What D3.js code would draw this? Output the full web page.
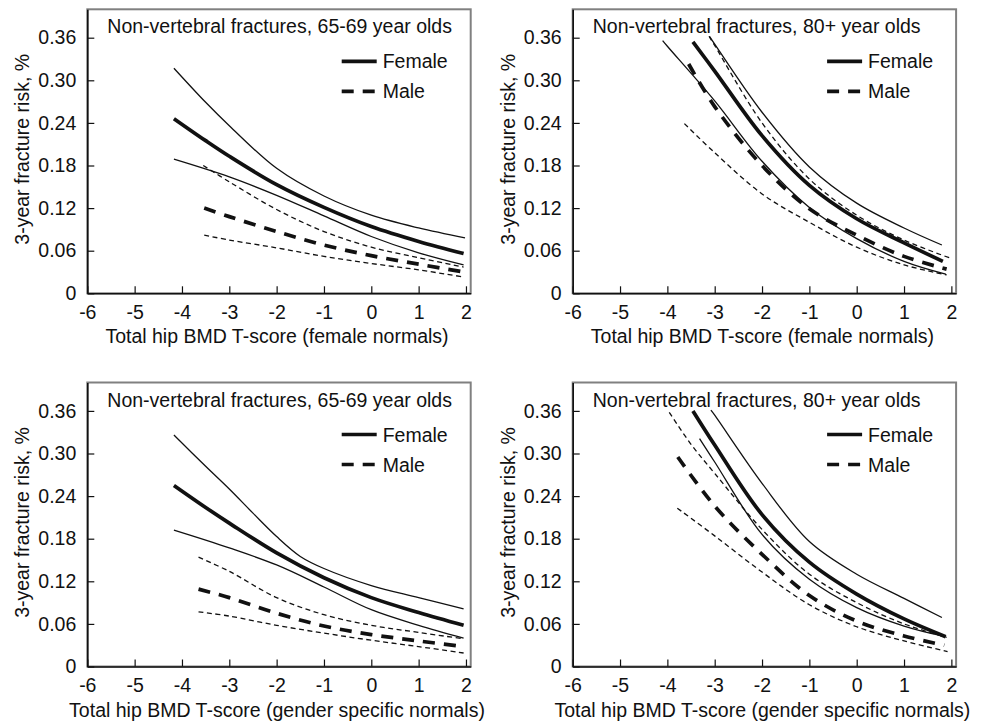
<!DOCTYPE html>
<html>
<head>
<meta charset="utf-8">
<script src="https://cdn.jsdelivr.net/npm/d3@7"></script>
<style>
  body { margin: 0; background: #fff; }
  text { font-family: "Liberation Sans", Arial, sans-serif; fill: #111; }
</style>
</head>
<body>
<svg id="chart" width="981" height="722"></svg>
<script>
// tick labels
const xTicks = [-6, -5, -4, -3, -2, -1, 0, 1, 2];
const yTicks = [0, 0.06, 0.12, 0.18, 0.24, 0.30, 0.36];

// [T-score, risk] pairs
// top left: 65-69, female normals
const p1FemMean = [[-4.17,0.246],[-3.5,0.215],[-3,0.193],[-2,0.153],[-1,0.121],[0,0.094],[1,0.073],[1.95,0.056]];
const p1FemUp   = [[-4.17,0.317],[-3.5,0.269],[-3,0.236],[-2,0.176],[-1,0.137],[0,0.110],[1,0.092],[1.98,0.078]];
const p1FemLo   = [[-4.17,0.189],[-3,0.164],[-2,0.138],[-1,0.109],[0,0.080],[1,0.057],[1.95,0.040]];
const p1MalMean = [[-3.53,0.120],[-3,0.108],[-2,0.087],[-1,0.068],[0,0.053],[1,0.041],[1.95,0.030]];
const p1MalUp   = [[-3.55,0.180],[-3,0.157],[-2,0.118],[-1,0.087],[0,0.065],[1,0.050],[1.95,0.037]];
const p1MalLo   = [[-3.53,0.082],[-3,0.075],[-2,0.064],[-1,0.052],[0,0.042],[1,0.033],[1.95,0.023]];

// top right: 80+, female normals
const p2FemMean = [[-3.46,0.354],[-3,0.313],[-2,0.222],[-1,0.152],[0,0.105],[1,0.071],[1.82,0.045]];
const p2FemUp   = [[-3.11,0.362],[-3,0.351],[-2,0.255],[-1,0.178],[0,0.127],[1,0.092],[1.8,0.068]];
const p2FemLo   = [[-4.1,0.356],[-4,0.348],[-3,0.271],[-2,0.186],[-1,0.121],[0,0.077],[1,0.045],[1.88,0.027]];
const p2MalMean = [[-3.55,0.323],[-3,0.263],[-2,0.180],[-1,0.119],[0,0.082],[1,0.052],[1.9,0.034]];
const p2MalUp   = [[-3.12,0.362],[-3,0.349],[-2,0.240],[-1,0.161],[0,0.110],[1,0.075],[2,0.049]];
const p2MalLo   = [[-3.64,0.239],[-3,0.198],[-2,0.140],[-1,0.100],[0,0.065],[1,0.040],[1.9,0.026]];

// bottom left: 65-69, gender specific normals
const p3FemMean = [[-4.17,0.255],[-3.5,0.224],[-3,0.202],[-2,0.160],[-1,0.125],[0,0.097],[1,0.076],[1.95,0.058]];
const p3FemUp   = [[-4.17,0.326],[-3.5,0.282],[-3,0.250],[-2.5,0.216],[-2,0.183],[-1.5,0.155],[-1,0.138],[0,0.114],[1,0.097],[1.95,0.081]];
const p3FemLo   = [[-4.17,0.192],[-3,0.167],[-2,0.143],[-1,0.112],[0,0.080],[1,0.058],[1.95,0.040]];
const p3MalMean = [[-3.65,0.109],[-3,0.097],[-2,0.075],[-1,0.057],[0,0.045],[1,0.036],[1.95,0.028]];
const p3MalUp   = [[-3.65,0.154],[-3,0.134],[-2,0.097],[-1,0.073],[0,0.058],[1,0.048],[1.95,0.039]];
const p3MalLo   = [[-3.65,0.077],[-3,0.071],[-2,0.058],[-1,0.047],[0,0.037],[1,0.028],[1.95,0.019]];

// bottom right: 80+, gender specific normals
const p4FemMean = [[-3.46,0.360],[-3,0.312],[-2,0.214],[-1,0.147],[0,0.102],[1,0.067],[1.88,0.042]];
const p4FemUp   = [[-3.08,0.361],[-3,0.354],[-2,0.258],[-1,0.176],[0,0.130],[1,0.096],[1.8,0.069]];
const p4FemLo   = [[-3.32,0.321],[-3,0.288],[-2,0.186],[-1,0.123],[0,0.083],[1,0.057],[1.88,0.042]];
const p4MalMean = [[-3.78,0.295],[-3,0.226],[-2,0.158],[-1,0.100],[0,0.064],[1,0.043],[1.85,0.030]];
const p4MalUp   = [[-3.96,0.358],[-3.5,0.313],[-3,0.272],[-2,0.193],[-1,0.130],[0,0.090],[1,0.060],[1.9,0.041]];
const p4MalLo   = [[-3.79,0.223],[-3,0.184],[-2,0.133],[-1,0.087],[0,0.056],[1,0.036],[1.92,0.021]];

const titles = ["Non-vertebral fractures, 65-69 year olds", "Non-vertebral fractures, 80+ year olds",
                "Non-vertebral fractures, 65-69 year olds", "Non-vertebral fractures, 80+ year olds"];
const xLabels = ["Total hip BMD T-score (female normals)", "Total hip BMD T-score (female normals)",
                 "Total hip BMD T-score (gender specific normals)", "Total hip BMD T-score (gender specific normals)"];
const yLabel = "3-year fracture risk, %";

const panels = [
  { left: 87.3, top: 9.3, curves: [p1FemUp, p1FemLo, p1MalUp, p1MalLo, p1FemMean, p1MalMean] },
  { left: 572.7, top: 9.3, curves: [p2FemUp, p2FemLo, p2MalUp, p2MalLo, p2FemMean, p2MalMean] },
  { left: 87.3, top: 382.5, curves: [p3FemUp, p3FemLo, p3MalUp, p3MalLo, p3FemMean, p3MalMean] },
  { left: 572.7, top: 382.5, curves: [p4FemUp, p4FemLo, p4MalUp, p4MalLo, p4FemMean, p4MalMean] }
];
// styles in the same order as curves
const styles = [
  { w: 1.3, dash: null }, { w: 1.3, dash: null },
  { w: 1.3, dash: "5,3.5" }, { w: 1.3, dash: "5,3.5" },
  { w: 3.7, dash: null }, { w: 3.7, dash: "12,9" }
];

const W = 383.4, H = 284;
const fs = 19.5;
const svg = d3.select("#chart");
svg.append("rect").attr("width", 981).attr("height", 722).attr("fill", "#fff");

panels.forEach((p, i) => {
  const g = svg.append("g").attr("transform", `translate(${p.left},${p.top})`);
  const x = d3.scaleLinear().domain([-6, 2.1]).range([0, W]);
  const y = d3.scaleLinear().domain([0, 0.4]).range([H, 0]);

  // grey frame (top/right)
  g.append("rect").attr("width", W).attr("height", H)
    .attr("fill", "none").attr("stroke", "#808080").attr("stroke-width", 2);

  const line = d3.line().x(d => x(d[0])).y(d => y(d[1])).curve(d3.curveCatmullRom.alpha(0.5));
  p.curves.forEach((c, k) => {
    g.append("path").attr("d", line(c)).attr("fill", "none")
      .attr("stroke", "#111").attr("stroke-width", styles[k].w)
      .attr("stroke-dasharray", styles[k].dash);
  });

  const xAxis = g.append("g").attr("transform", `translate(0,${H})`)
    .call(d3.axisBottom(x).tickValues(xTicks).tickFormat(d3.format("d"))
      .tickSize(-7).tickSizeOuter(0).tickPadding(12));
  const yAxis = g.append("g")
    .call(d3.axisLeft(y).tickValues(yTicks).tickFormat(d => d === 0 ? "0" : d3.format(".2f")(d))
      .tickSize(-7).tickSizeOuter(0).tickPadding(11));
  [xAxis, yAxis].forEach(a => {
    a.select(".domain").attr("stroke", "#111").attr("stroke-width", 1.6);
    a.selectAll(".tick line").attr("stroke", "#111").attr("stroke-width", 1.2);
    a.selectAll("text").attr("font-size", fs).attr("font-family", null).attr("fill", "#111");
  });
  xAxis.selectAll(".tick text").text(d => d < 0 ? "-" + Math.abs(d) : d);

  g.append("text").attr("x", 20).attr("y", 24).attr("font-size", fs).text(titles[i]);

  // legend
  const lx = W - 129;
  g.append("line").attr("x1", lx).attr("x2", lx + 35).attr("y1", 52).attr("y2", 52)
    .attr("stroke", "#111").attr("stroke-width", 3.7);
  g.append("text").attr("x", lx + 41).attr("y", 59).attr("font-size", fs).text("Female");
  g.append("line").attr("x1", lx).attr("x2", lx + 35).attr("y1", 82).attr("y2", 82)
    .attr("stroke", "#111").attr("stroke-width", 3.7).attr("stroke-dasharray", "12,9");
  g.append("text").attr("x", lx + 41).attr("y", 89).attr("font-size", fs).text("Male");

  g.append("text").attr("x", W / 2 - 2).attr("y", H + 50).attr("text-anchor", "middle")
    .attr("font-size", fs).text(xLabels[i]);
  g.append("text").attr("transform", `translate(-58,${H / 2 - 2}) rotate(-90)`)
    .attr("text-anchor", "middle").attr("font-size", fs).text(yLabel);
});
</script>
</body>
</html>
